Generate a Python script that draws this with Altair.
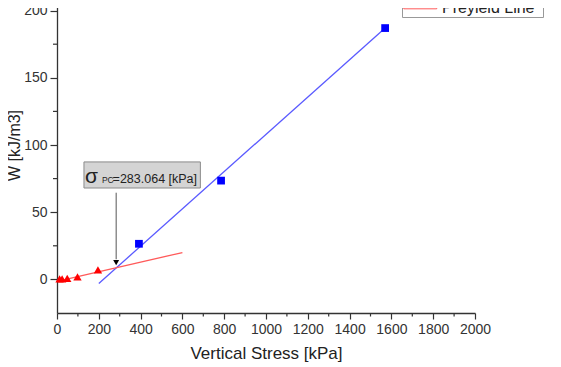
import altair as alt
import pandas as pd

# ---- data ----
pre_stress = [12.3, 24.5, 49, 98, 196]          # kPa, red triangles
pre_w = [0.3, 0.4, 0.8, 1.8, 7.0]                # kJ/m3
post_stress = [392, 785, 1570]                   # kPa, blue squares
post_w = [26.5, 73.5, 187.0]

preline_x = [0, 600]
preline_w = [-1.5, 20.0]
postline_x = [200, 1570]
postline_w = [-3.0, 187.0]

sigma_pc = 283.064
arrow_w = [64.5, 15.0]
arrow_tip_w = 12.5
box_x = [129, 686]
box_w = [68.0, 87.4]
label_w = 72.0
label_parts = ["σ", "PC", "=283.064 [kPa]"]
label_x = [134, 215, 266]
label_sizes = [21, 8.5, 12.5]

x_major = list(range(0, 2001, 200))
x_minor = list(range(100, 2000, 200))
y_major = list(range(0, 201, 50))
y_minor = [25, 75, 125, 175, 225]

FONT = "Liberation Sans"
AXC = "#333333"

xscale = alt.Scale(domain=[0, 2000], nice=False)
yscale = alt.Scale(domain=[-25, 225], nice=False)

xaxis = alt.Axis(
    title="Vertical Stress [kPa]", values=x_major, format="d", labelOverlap=False, labelFlush=False,
    tickSize=6, grid=False, domainColor=AXC, tickColor=AXC, domainWidth=1.3, tickWidth=1.2,
    labelFont=FONT, labelFontSize=14, labelColor=AXC, labelPadding=3,
    titleFont=FONT, titleFontSize=17, titleFontWeight="normal", titleColor="#222222", titlePadding=9,
)
yaxis = alt.Axis(
    title="W [kJ/m3]", values=y_major, format="d", labelOverlap=False, labelFlush=False,
    tickSize=7, grid=False, domainColor=AXC, tickColor=AXC, domainWidth=1.3, tickWidth=1.2,
    labelFont=FONT, labelFontSize=14, labelColor=AXC, labelPadding=3,
    titleFont=FONT, titleFontSize=16, titleFontWeight="normal", titleColor="#222222", titlePadding=1,
)

lines_df = pd.DataFrame({
    "stress": postline_x + preline_x,
    "w": postline_w + preline_w,
    "series": ["Postyield Line"] * 2 + ["Preyield Line"] * 2,
})
pre_df = pd.DataFrame({"stress": pre_stress, "w": pre_w})
post_df = pd.DataFrame({"stress": post_stress, "w": post_w})

lines = alt.Chart(lines_df).mark_line(strokeWidth=1.3).encode(
    x=alt.X("stress:Q", scale=xscale, axis=xaxis),
    y=alt.Y("w:Q", scale=yscale, axis=yaxis),
    color=alt.Color("series:N",
        scale=alt.Scale(domain=["Postyield Line", "Preyield Line"], range=["#5a5aff", "#ff5a5a"]),
        legend=alt.Legend(
            title=None, orient="none", legendX=345, legendY=2,
            symbolType="M-1,-0.1H3V0.1H-1Z", symbolSize=272, symbolStrokeWidth=1,
            symbolOpacity=1,
            labelFont=FONT, labelFontSize=16, labelColor="#222222", labelOffset=21,
            strokeColor="#999999", fillColor="white", padding=1, rowPadding=2,
        )),
    detail="series:N",
)

pre_pts = alt.Chart(pre_df).mark_point(shape="triangle-up", filled=True, opacity=1, size=70, color="#ff0000").encode(
    x=alt.X("stress:Q", scale=xscale), y=alt.Y("w:Q", scale=yscale))
post_pts = alt.Chart(post_df).mark_point(shape="square", filled=True, opacity=1, size=60, color="#0000ff").encode(
    x=alt.X("stress:Q", scale=xscale), y=alt.Y("w:Q", scale=yscale))

# minor ticks
xminor = alt.Chart(pd.DataFrame({"v": x_minor})).mark_rule(color=AXC, strokeWidth=1.2).encode(
    x=alt.X("v:Q", scale=xscale), y=alt.value(336), y2=alt.value(339.5))
yminor = alt.Chart(pd.DataFrame({"v": y_minor})).mark_rule(color=AXC, strokeWidth=1.2).encode(
    y=alt.Y("v:Q", scale=yscale), x=alt.value(0), x2=alt.value(-4))

box_df = pd.DataFrame({"x": [box_x[0]], "x2": [box_x[1]], "y": [box_w[0]], "y2": [box_w[1]]})
box = alt.Chart(box_df).mark_rect(fill="#d4d4d4", stroke="#8a8a8a", strokeWidth=1).encode(
    x=alt.X("x:Q", scale=xscale), x2="x2:Q", y=alt.Y("y:Q", scale=yscale), y2="y2:Q")

texts = []
for part, px, fs in zip(label_parts, label_x, label_sizes):
    tdf = pd.DataFrame({"x": [px], "y": [label_w], "t": [part]})
    texts.append(alt.Chart(tdf).mark_text(align="left", baseline="alphabetic", font=FONT,
                                          fontSize=fs, color="#222222").encode(
        x=alt.X("x:Q", scale=xscale), y=alt.Y("y:Q", scale=yscale), text="t:N"))

arrow_df = pd.DataFrame({"x": [sigma_pc], "y": [arrow_w[0]], "y2": [arrow_w[1]]})
arrow = alt.Chart(arrow_df).mark_rule(color="#555555", strokeWidth=1).encode(
    x=alt.X("x:Q", scale=xscale), y=alt.Y("y:Q", scale=yscale), y2="y2:Q")
head_df = pd.DataFrame({"x": [sigma_pc], "y": [arrow_tip_w]})
head = alt.Chart(head_df).mark_point(shape="triangle-down", filled=True, opacity=1, size=35, color="#000000").encode(
    x=alt.X("x:Q", scale=xscale), y=alt.Y("y:Q", scale=yscale))

chart = alt.layer(lines, pre_pts, post_pts, xminor, yminor, box, *texts, arrow, head).properties(
    width=418, height=336,
    autosize="none",
    padding={"left": 49, "top": -31, "right": 78, "bottom": 54},
    background="white",
).configure_view(stroke=None)

chart.save("out.html", embed_options={"renderer": "svg", "actions": False})
